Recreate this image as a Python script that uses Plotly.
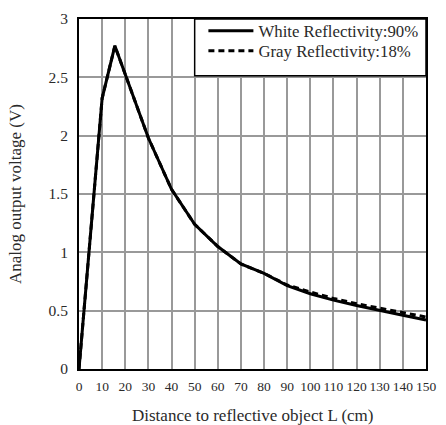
import plotly.graph_objects as go

distance_cm = [0, 10, 15.5, 20, 30, 40, 50, 60, 70, 80, 90, 100, 110, 120, 130, 140, 150]
white_90 = [0, 2.32, 2.77, 2.52, 1.98, 1.54, 1.24, 1.05, 0.90, 0.82, 0.715, 0.645, 0.59, 0.545, 0.50, 0.46, 0.42]
gray_18 = [0, 2.32, 2.77, 2.52, 1.98, 1.54, 1.24, 1.05, 0.90, 0.82, 0.72, 0.66, 0.605, 0.56, 0.52, 0.48, 0.445]

x_ticks = list(range(0, 151, 10))
y_ticks = [0, 0.5, 1, 1.5, 2, 2.5, 3]
y_tick_labels = ["0", "0.5", "1", "1.5", "2", "2.5", "3"]

FONT = "Liberation Serif, Times New Roman, serif"
TXT = "#2a2a2a"

fig = go.Figure()
fig.add_trace(go.Scatter(x=distance_cm, y=white_90, mode="lines",
                         name="White Reflectivity:90%", legend="legend",
                         line=dict(color="black", width=3)))
fig.add_trace(go.Scatter(x=distance_cm, y=gray_18, mode="lines",
                         name="Gray Reflectivity:18%", legend="legend2",
                         line=dict(color="black", width=3, dash="6px,4px")))

# legend box covering the grid
fig.add_shape(type="rect", xref="x", yref="y", x0=50, x1=150, y0=2.513, y1=3,
              fillcolor="white", line=dict(color="black", width=1.5), layer="above")

leg_common = dict(xanchor="left", yanchor="middle", bgcolor="rgba(0,0,0,0)",
                  borderwidth=0, font=dict(family=FONT, size=16.8, color=TXT),
                  itemwidth=45)

fig.update_layout(
    width=446, height=425,
    margin=dict(l=79, r=10, t=12, b=56),
    paper_bgcolor="white", plot_bgcolor="white",
    font=dict(family=FONT, color=TXT, size=15),
    showlegend=True,
    legend=dict(x=0.3585, y=0.966, **leg_common),
    legend2=dict(x=0.3585, y=0.909, **leg_common),
    xaxis=dict(range=[0, 150], tickvals=x_ticks, ticktext=[str(v) for v in x_ticks],
               showgrid=True, gridcolor="#999999", gridwidth=1.5,
               showline=True, linecolor="black", linewidth=2, mirror=True,
               zeroline=False, ticks="", ticklen=0, ticklabelstandoff=4,
               tickangle=0,
               tickfont=dict(family=FONT, size=13.5, color=TXT)),
    yaxis=dict(range=[0, 3], tickvals=y_ticks, ticktext=y_tick_labels,
               showgrid=True, gridcolor="#999999", gridwidth=1.5,
               showline=True, linecolor="black", linewidth=2, mirror=True,
               zeroline=False, ticks="", ticklen=0, ticklabelstandoff=6,
               tickfont=dict(family=FONT, size=15.5, color=TXT)),
    annotations=[
        dict(text="Distance to reflective object L (cm)", xref="paper", yref="paper",
             x=0.5, y=0, xanchor="center", yanchor="middle", yshift=-46,
             showarrow=False, font=dict(family=FONT, size=17, color=TXT)),
        dict(text="Analog output voltage (V)", xref="paper", yref="paper",
             x=0, y=0.5, xanchor="center", yanchor="middle", xshift=-64,
             textangle=-90, showarrow=False,
             font=dict(family=FONT, size=17, color=TXT)),
    ],
)

fig.write_html("out.html")
